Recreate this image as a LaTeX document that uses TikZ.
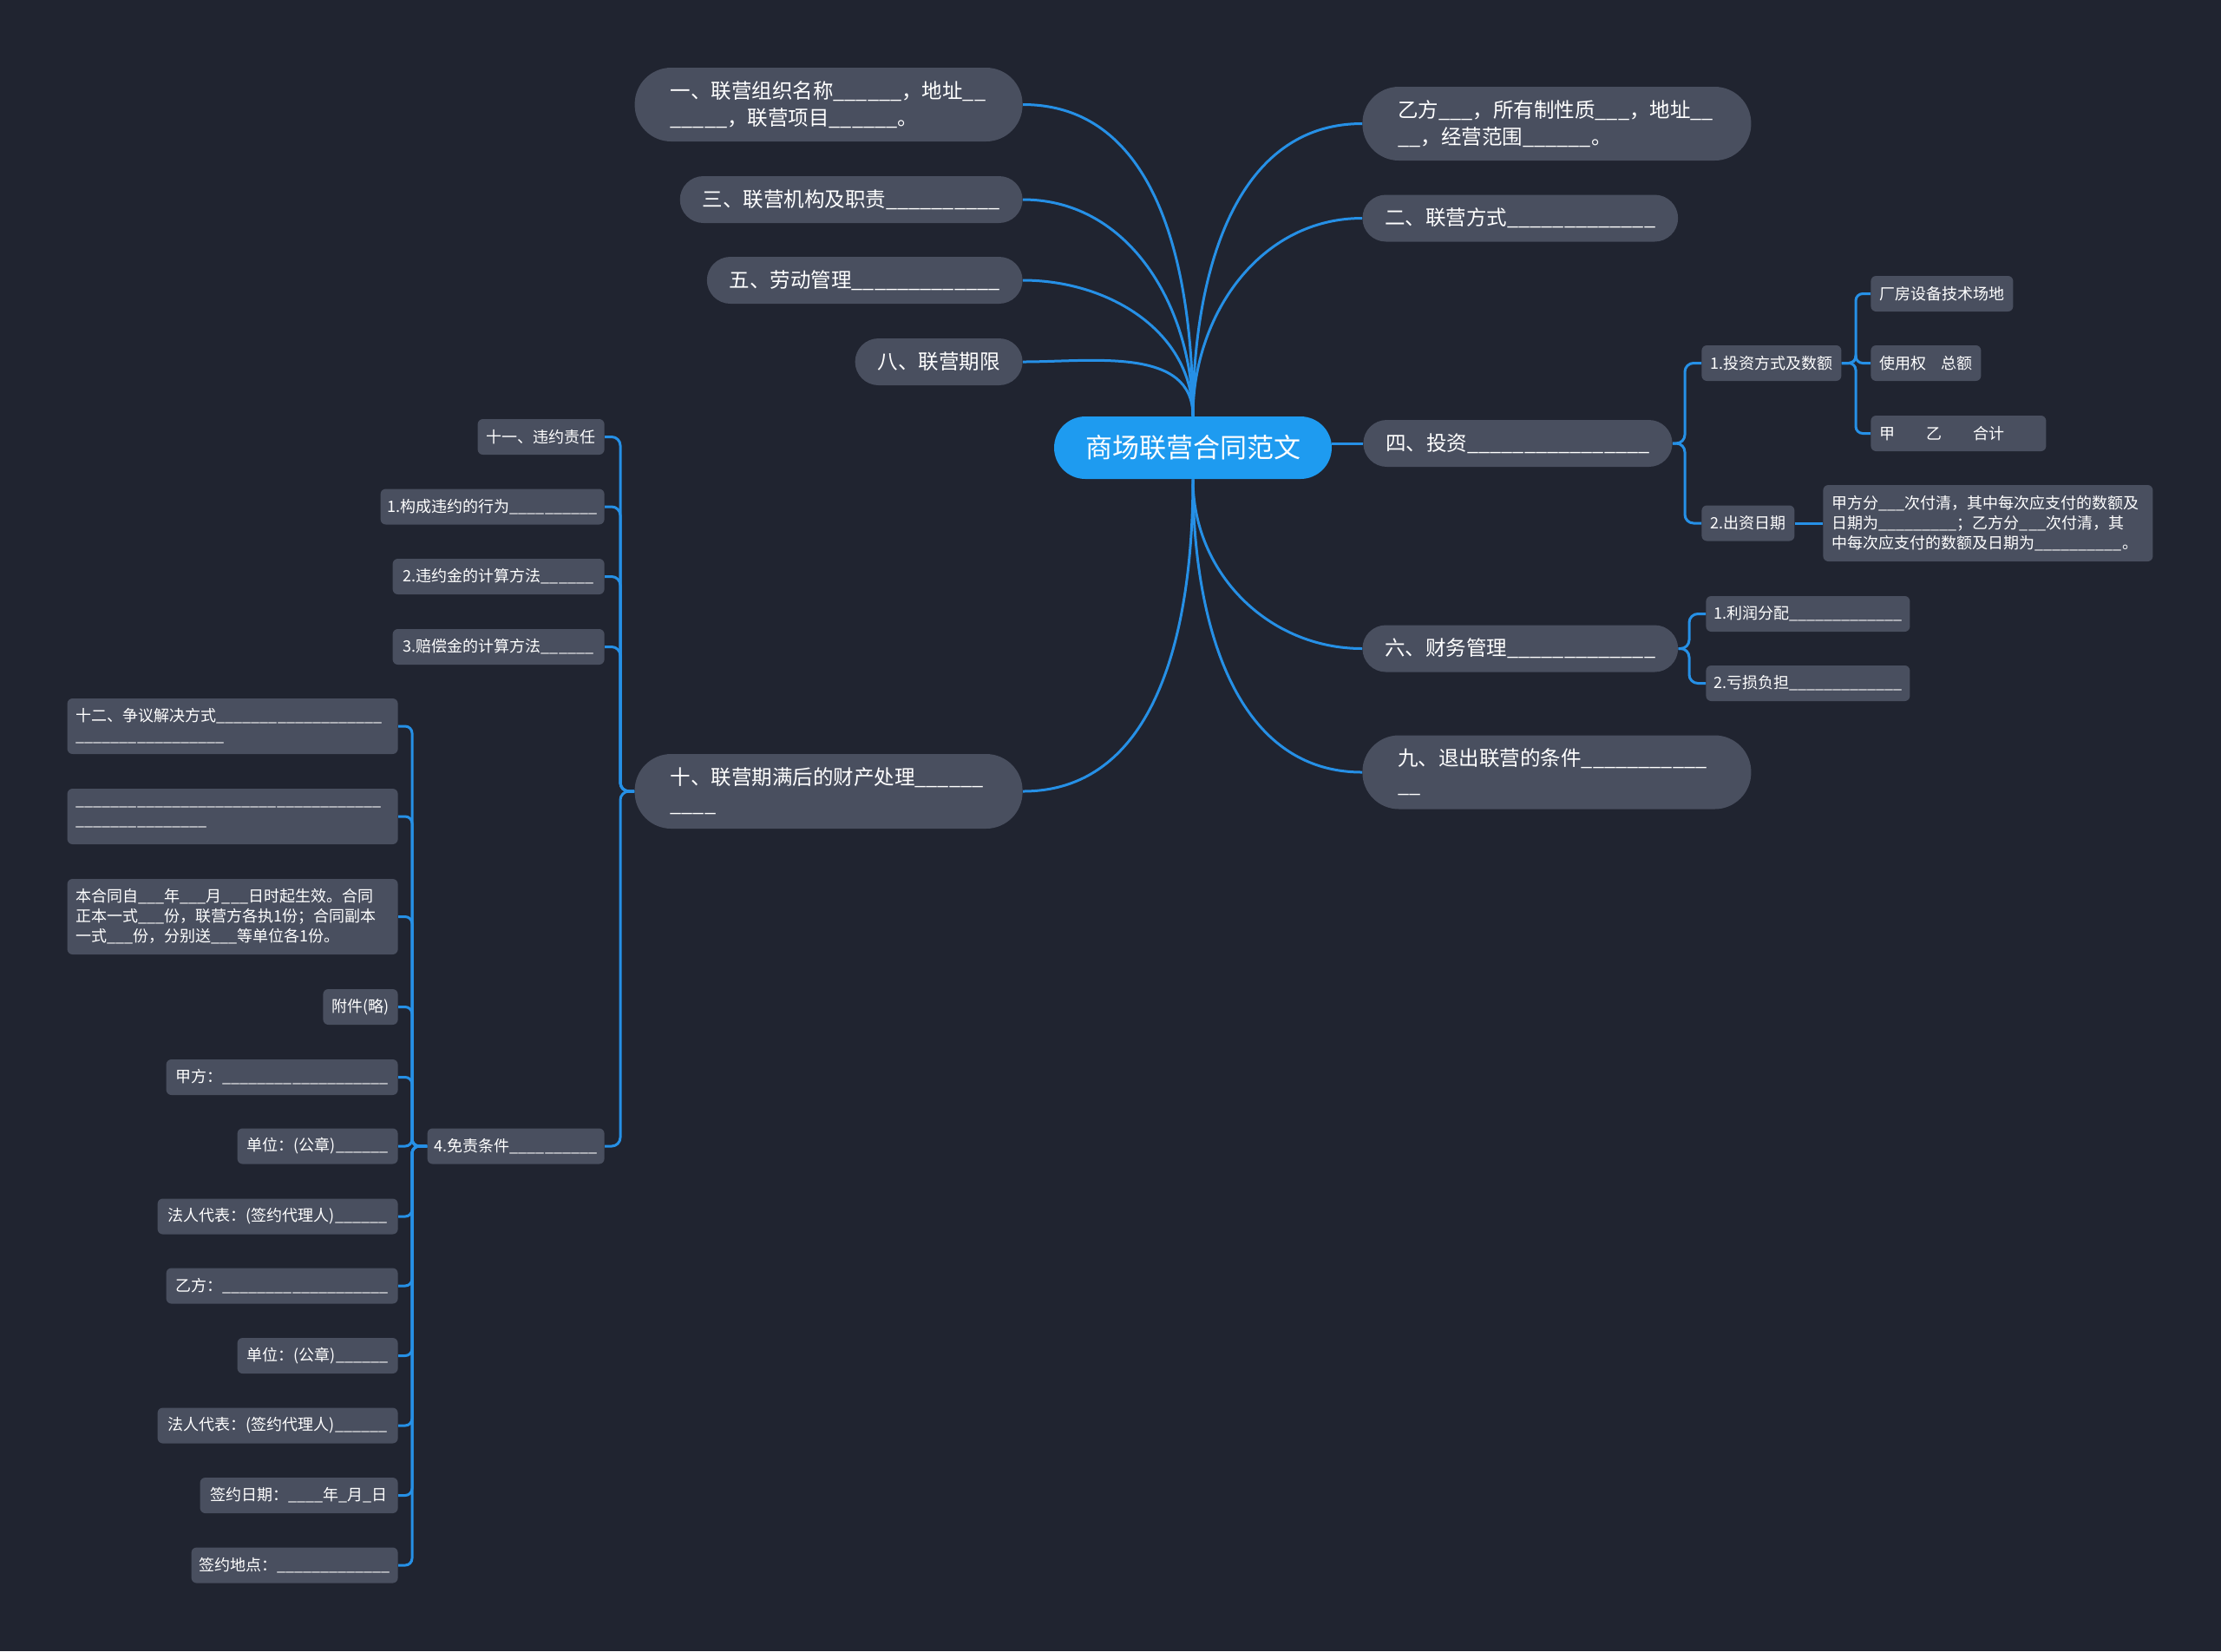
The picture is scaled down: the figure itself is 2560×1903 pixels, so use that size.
\documentclass[tikz,border=0pt]{standalone}
\usepackage{fontspec}
\setmainfont{Noto Sans CJK SC}
\definecolor{bgc}{RGB}{32,36,48}
\definecolor{nodefill}{RGB}{73,79,95}
\definecolor{rootfill}{RGB}{30,155,240}
\definecolor{linkc}{RGB}{38,144,230}
\newcommand\ublank[1]{\ifnum#1>0 \_\expandafter\ublank\expandafter{\the\numexpr#1-1\relax}\fi}
\tikzset{
  l1/.style={fill=nodefill, text=white, rounded corners=13.5pt, minimum height=27pt, inner xsep=13pt, inner ysep=0pt, font=\fontsize{11.75}{15.5}\selectfont},
  l1two/.style={fill=nodefill, text=white, rounded corners=21pt, minimum height=42.5pt, inner xsep=20.5pt, inner ysep=0pt, align=left, font=\fontsize{11.75}{15.5}\selectfont},
  sm/.style={fill=nodefill, text=white, rounded corners=3pt, minimum height=20.5pt, inner xsep=5pt, inner ysep=0pt, font=\fontsize{9}{11.5}\selectfont},
  smm/.style={sm, align=left},
  root/.style={fill=rootfill, text=white, rounded corners=18pt, minimum height=36pt, minimum width=160pt, inner sep=0pt, font=\fontsize{15.5}{18}\selectfont},
  conn/.style={draw=linkc, line width=1.5pt},
}
\begin{document}
\begin{tikzpicture}[x=0.5pt,y=-0.5pt]
\fill[bgc] (0,0) rectangle (2560,1903);
\useasboundingbox (0,0) rectangle (2560,1903);

% root
\node[root] (c) at (1375,516) {商场联营合同范文};

% left level 1
\node[l1two, text width=182.5pt, anchor=east] (n1) at (1179,120.5) {一、联营组织名称\ublank{6}，地址\ublank{2}\\\ublank{5}，联营项目\ublank{6}。};
\node[l1, minimum width=195pt, anchor=east] (n3) at (1179,230) {三、联营机构及职责\ublank{10}};
\node[l1, minimum width=180.5pt, anchor=east] (n5) at (1179,323) {五、劳动管理\ublank{13}};
\node[l1, minimum width=96.5pt, anchor=east] (n8) at (1179,417) {八、联营期限};
\node[l1two, text width=182.5pt, minimum height=43pt, anchor=east] (n10) at (1179,912) {十、联营期满后的财产处理\ublank{6}\\\ublank{4}};

% right level 1
\node[l1two, text width=183pt, anchor=west] (nB) at (1570,142.5) {乙方\ublank{3}，所有制性质\ublank{3}，地址\ublank{2}\\\ublank{2}，经营范围\ublank{6}。};
\node[l1, minimum width=180.5pt, anchor=west] (n2) at (1570,251.5) {二、联营方式\ublank{13}};
\node[l1, minimum width=177.5pt, anchor=west] (n4) at (1571,511) {四、投资\ublank{16}};
\node[l1, minimum width=180pt, anchor=west] (n6) at (1570,747.5) {六、财务管理\ublank{13}};
\node[l1two, text width=183pt, anchor=west] (n9) at (1570,890) {九、退出联营的条件\ublank{11}\\\ublank{2}};

% investment subtree
\node[sm, minimum width=79.5pt, anchor=west] (r1) at (1961,418.5) {1.投资方式及数额};
\node[sm, minimum width=52.5pt, anchor=west] (r2) at (1961,603) {2.出资日期};
\node[sm, minimum width=80.5pt, anchor=west] (r11) at (2156,338.5) {厂房设备技术场地};
\node[sm, minimum width=62pt, anchor=west] (r12) at (2156,418.5) {使用权\hspace{8.5pt}总额};
\node[smm, text width=91pt, anchor=west] (r13) at (2156,499.5) {甲\hspace{18pt}乙\hspace{18pt}合计};
\node[smm, text width=180pt, minimum height=44pt, anchor=west] (r21) at (2101,603) {甲方分\ublank{3}次付清，其中每次应支付的数额及\\日期为\ublank{9}；乙方分\ublank{3}次付清，其\\中每次应支付的数额及日期为\ublank{10}。};

% finance subtree
\node[sm, inner xsep=4pt, minimum width=117.5pt, anchor=west] (r61) at (1966,707.5) {1.利润分配\ublank{13}};
\node[sm, inner xsep=4pt, minimum width=117.5pt, anchor=west] (r62) at (1966,787.5) {2.亏损负担\ublank{13}};

% section 10 subtree
\node[sm, minimum width=72.5pt, anchor=east] (s11) at (697,503.5) {十一、违约责任};
\node[sm, inner xsep=3pt, minimum width=129pt, anchor=east] (s1) at (697,584) {1.构成违约的行为\ublank{10}};
\node[sm, minimum width=122pt, anchor=east] (s2) at (697,664.5) {2.违约金的计算方法\ublank{6}};
\node[sm, minimum width=122pt, anchor=east] (s3) at (697,745.5) {3.赔偿金的计算方法\ublank{6}};
\node[sm, inner xsep=4pt, minimum width=102pt, anchor=east] (s4) at (697,1321) {4.免责条件\ublank{10}};

% children of 4
\node[smm, text width=180.5pt, minimum height=32pt, anchor=east] (a) at (459,837) {十二、争议解决方式\ublank{19}\\\ublank{17}};
\node[smm, text width=180.5pt, minimum height=32pt, anchor=east] (b) at (459,941) {\ublank{35}\\\ublank{15}};
\node[smm, text width=180.5pt, minimum height=43.5pt, anchor=east] (cc) at (459,1056.5) {本合同自\ublank{3}年\ublank{3}月\ublank{3}日时起生效。合同\\正本一式\ublank{3}份，联营方各执1份；合同副本\\一式\ublank{3}份，分别送\ublank{3}等单位各1份。};
\node[sm, minimum width=42pt, anchor=east] (d) at (459,1160.5) {附件(略)};
\node[sm, minimum width=133.5pt, anchor=east] (e) at (459,1241.5) {甲方：\ublank{19}};
\node[sm, minimum width=92.5pt, anchor=east] (f) at (459,1321) {单位：(公章)\ublank{6}};
\node[sm, minimum width=138.5pt, anchor=east] (g) at (459,1402) {法人代表：(签约代理人)\ublank{6}};
\node[sm, minimum width=133.5pt, anchor=east] (h) at (459,1482) {乙方：\ublank{19}};
\node[sm, minimum width=92.5pt, anchor=east] (i) at (459,1562.5) {单位：(公章)\ublank{6}};
\node[sm, minimum width=138.5pt, anchor=east] (j) at (459,1643) {法人代表：(签约代理人)\ublank{6}};
\node[sm, minimum width=114pt, anchor=east] (k) at (459,1723.5) {签约日期：\ublank{4}年\ublank{1}月\ublank{1}日};
\node[sm, inner xsep=4pt, minimum width=119pt, anchor=east] (l) at (459,1804) {签约地点：\ublank{13}};

% bracket joints
\coordinate (j4) at (1942,511);
\coordinate (jr1) at (2139,418.5);
\coordinate (j6) at (1947,747.5);
\coordinate (j10) at (715,912);
\coordinate (js4) at (475,1321);

% root connectors
\draw[conn] (c.north) to[out=90,in=0] (n1.east);
\draw[conn] (c.north) to[out=90,in=0] (n3.east);
\draw[conn] (c.north) to[out=90,in=0] (n5.east);
\draw[conn] (c.north) to[out=90,in=0] (n8.east);
\draw[conn] (c.north) to[out=90,in=180] (nB.west);
\draw[conn] (c.north) to[out=90,in=180] (n2.west);
\draw[conn] (n4.west -| c.east) -- (n4.west);
\draw[conn] (c.south) to[out=-90,in=180] (n6.west);
\draw[conn] (c.south) to[out=-90,in=180] (n9.west);
\draw[conn] (c.south) to[out=-90,in=0] (n10.east);

% brackets
\foreach \t in {r1,r2} \draw[conn, rounded corners=5pt] (n4.east) -- (j4) |- (\t.west);
\foreach \t in {r11,r12,r13} \draw[conn, rounded corners=4pt] (r1.east) -- (jr1) |- (\t.west);
\draw[conn] (r2.east) -- (r21.west);
\foreach \t in {r61,r62} \draw[conn, rounded corners=5pt] (n6.east) -- (j6) |- (\t.west);
\foreach \t in {s11,s1,s2,s3,s4} \draw[conn, rounded corners=5pt] (n10.west) -- (j10) |- (\t.east);
\foreach \t in {a,b,cc,d,e,f,g,h,i,j,k,l} \draw[conn, rounded corners=4pt] (s4.west) -- (js4) |- (\t.east);
\end{tikzpicture}
\end{document}
